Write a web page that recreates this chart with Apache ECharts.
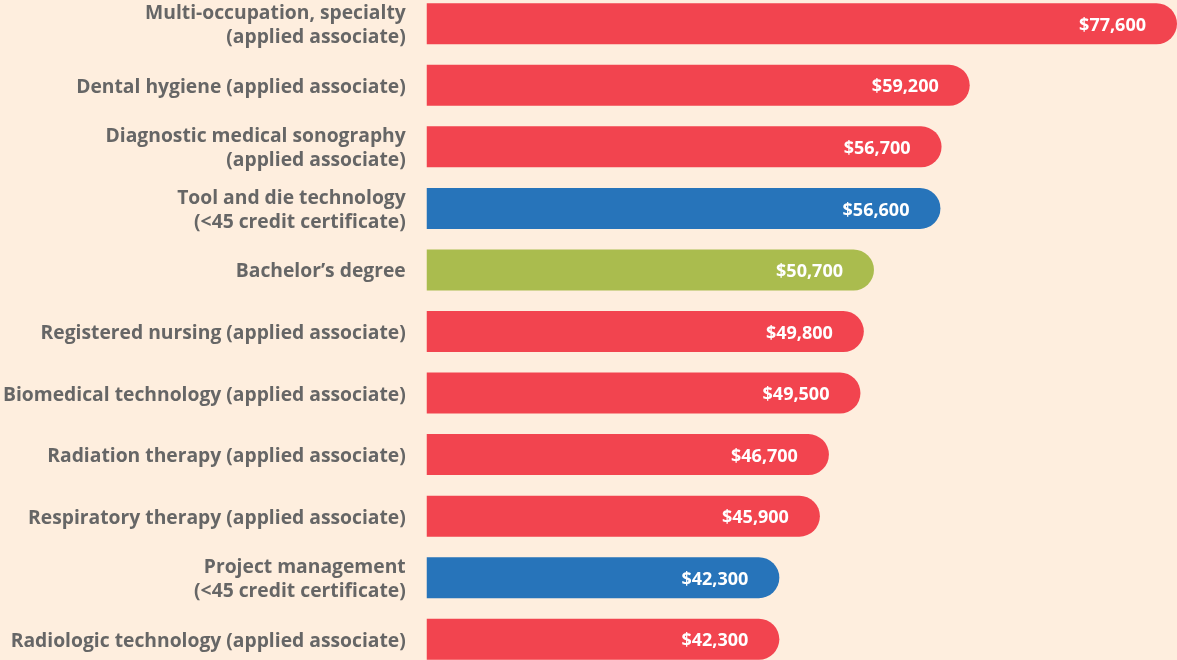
<!DOCTYPE html>
<html>
<head>
<meta charset="utf-8">
<title>Median earnings by credential</title>
<script src="https://cdn.jsdelivr.net/npm/echarts@6/dist/echarts.min.js"></script>
<style>
  html, body { margin: 0; padding: 0; background: #FEEEDE; overflow: hidden; }
  /* the plot runs slightly past the top and bottom of the page */
  #chart { width: 1177px; height: 677px; margin-top: -7px; }
</style>
</head>
<body>
<div id="chart"></div>
<script>
// Programs, top to bottom
const categories = [
  'Multi-occupation, specialty\n(applied associate)',
  'Dental hygiene (applied associate)',
  'Diagnostic medical sonography\n(applied associate)',
  'Tool and die technology\n(<45 credit certificate)',
  'Bachelor\u2019s degree',
  'Registered nursing (applied associate)',
  'Biomedical technology (applied associate)',
  'Radiation therapy (applied associate)',
  'Respiratory therapy (applied associate)',
  'Project management\n(<45 credit certificate)',
  'Radiologic technology (applied associate)'
];

// Earnings in dollars
const earnings = [77600, 59200, 56700, 56600, 50700, 49800, 49500, 46700, 45900, 42300, 42300];

// Credential type of each program
const credentialType = [
  'associate', 'associate', 'associate', 'certificate', 'bachelor',
  'associate', 'associate', 'associate', 'associate', 'certificate', 'associate'
];

const typeColors = {
  associate: '#F2444F',
  certificate: '#2774BA',
  bachelor: '#AABC4E'
};

const chart = echarts.init(document.getElementById('chart'), null, { renderer: 'canvas' });

const fmt = v => '$' + v.toLocaleString('en-US');

chart.setOption({
  backgroundColor: '#FEEEDE',
  animation: false,
  grid: { left: 426, right: 0, top: 0, bottom: 0, containLabel: false },
  xAxis: {
    type: 'value',
    min: 11000,
    max: 77600,
    show: false
  },
  yAxis: {
    type: 'category',
    inverse: true,
    data: categories,
    axisLine: { show: false },
    axisTick: { show: false },
    splitLine: { show: false },
    axisLabel: {
      margin: 21,
      align: 'right',
      formatter: v => v.split('\n').map(s => '{t|' + s + '}').join('\n'),
      rich: {
        t: {
          color: '#666666',
          fontFamily: '"Open Sans", sans-serif',
          fontWeight: 'bold',
          fontSize: 19.3,
          lineHeight: 24,
          align: 'right',
          padding: [4, 0, 0, 0]
        }
      }
    }
  },
  series: [{
    type: 'bar',
    barWidth: 41,
    data: earnings.map((v, i) => ({
      value: v,
      itemStyle: { color: typeColors[credentialType[i]] }
    })),
    itemStyle: { borderRadius: [0, 21, 21, 0] },
    label: {
      show: true,
      position: 'insideRight',
      distance: 31,
      offset: [0, 2],
      color: '#ffffff',
      fontFamily: '"Open Sans", sans-serif',
      fontWeight: 'bold',
      fontSize: 18,
      formatter: p => fmt(p.value)
    }
  }]
});
</script>
</body>
</html>
